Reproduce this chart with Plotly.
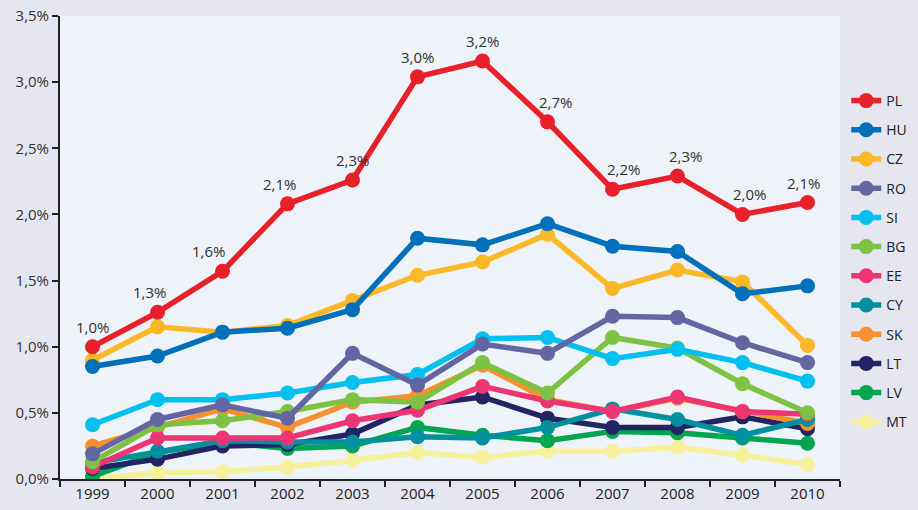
import plotly.graph_objects as go

years = ["1999", "2000", "2001", "2002", "2003", "2004", "2005", "2006", "2007", "2008", "2009", "2010"]

PL = [1.00, 1.26, 1.57, 2.08, 2.26, 3.04, 3.16, 2.70, 2.19, 2.29, 2.00, 2.09]
HU = [0.85, 0.93, 1.11, 1.14, 1.28, 1.82, 1.77, 1.93, 1.76, 1.72, 1.40, 1.46]
CZ = [0.90, 1.15, 1.11, 1.16, 1.35, 1.54, 1.64, 1.85, 1.44, 1.58, 1.49, 1.01]
RO = [0.19, 0.45, 0.56, 0.46, 0.95, 0.71, 1.02, 0.95, 1.23, 1.22, 1.03, 0.88]
SI = [0.41, 0.60, 0.60, 0.65, 0.73, 0.79, 1.06, 1.07, 0.91, 0.98, 0.88, 0.74]
BG = [0.13, 0.41, 0.44, 0.51, 0.60, 0.58, 0.88, 0.65, 1.07, 0.99, 0.72, 0.50]
EE = [0.09, 0.31, 0.31, 0.31, 0.44, 0.52, 0.70, 0.59, 0.51, 0.62, 0.51, 0.49]
CY = [0.12, 0.21, 0.29, 0.28, 0.28, 0.32, 0.31, 0.39, 0.53, 0.45, 0.33, 0.45]
SK = [0.25, 0.39, 0.53, 0.39, 0.58, 0.63, 0.86, 0.60, 0.51, 0.61, 0.51, 0.42]
LT = [0.08, 0.15, 0.25, 0.26, 0.34, 0.56, 0.62, 0.46, 0.39, 0.39, 0.47, 0.38]
LV = [0.02, 0.20, 0.28, 0.23, 0.25, 0.39, 0.33, 0.29, 0.36, 0.35, 0.31, 0.27]
MT = [0.00, 0.05, 0.055, 0.09, 0.14, 0.20, 0.165, 0.21, 0.21, 0.24, 0.18, 0.11]

y_tick_vals = [0, 0.5, 1.0, 1.5, 2.0, 2.5, 3.0, 3.5]
y_tick_text = ["0,0%", "0,5%", "1,0%", "1,5%", "2,0%", "2,5%", "3,0%", "3,5%"]
PL_labels = ["1,0%", "1,3%", "1,6%", "2,1%", "2,3%", "3,0%", "3,2%", "2,7%", "2,2%", "2,3%", "2,0%", "2,1%"]

series = [
    ("PL", PL, "#E8202A"),
    ("HU", HU, "#0070BA"),
    ("CZ", CZ, "#FDB827"),
    ("RO", RO, "#6465A3"),
    ("SI", SI, "#00C0F0"),
    ("BG", BG, "#7DC242"),
    ("EE", EE, "#EE3573"),
    ("CY", CY, "#0090A0"),
    ("SK", SK, "#F7902F"),
    ("LT", LT, "#222463"),
    ("LV", LV, "#00A54F"),
    ("MT", MT, "#F5F09A"),
]

# label offsets (style only)
label_xshift = [0, -8, -14, -8, 0, 0, 0, 8, 11, 8, 7, -4]

fig = go.Figure()
names = [s[0] for s in series]
for name, vals, color in reversed(series):
    fig.add_trace(go.Scatter(
        x=years, y=vals, name=name, mode="lines+markers",
        line=dict(color=color, width=5.5),
        marker=dict(color=color, size=15),
        legendgroup=name,
        legendrank=names.index(name) + 1,
        hoverinfo="skip",
    ))

for i in range(len(years)):
    fig.add_annotation(
        x=i, y=PL[i], text=PL_labels[i], xref="x", yref="y",
        showarrow=False, yshift=20, xshift=label_xshift[i],
        font=dict(size=15, color="#333333"),
    )

fig.update_layout(
    width=918, height=510,
    margin=dict(l=60, r=78, t=16, b=31, autoexpand=False),
    paper_bgcolor="#E5E6F0",
    plot_bgcolor="#EEF2F9",
    font=dict(family="Open Sans, sans-serif", size=15, color="#333333"),
    showlegend=True,
    legend=dict(
        x=1.008, xanchor="left", y=0.851, yanchor="top",
        bgcolor="rgba(0,0,0,0)", tracegroupgap=8,
        font=dict(size=14, color="#222222"),
        traceorder="grouped",
    ),
    xaxis=dict(
        type="category", showgrid=False, showline=True, linecolor="#222222", linewidth=2,
        ticks="outside", tickson="boundaries", ticklen=6, tickcolor="#222222", tickwidth=1.5,
        tickfont=dict(size=15, color="#222222"), range=[-0.5, 11.5], zeroline=False,
        automargin=False,
    ),
    yaxis=dict(
        range=[0, 3.5], showgrid=False, showline=True, linecolor="#222222", linewidth=2,
        ticks="outside", ticklen=6, tickcolor="#222222", tickwidth=1.5,
        tickmode="array", tickvals=y_tick_vals, ticktext=y_tick_text,
        tickfont=dict(size=15, color="#333333"), zeroline=False,
        automargin=False,
    ),
)

fig.write_html("out.html", config={"displayModeBar": False},
               post_script="document.body.style.margin='0';")
